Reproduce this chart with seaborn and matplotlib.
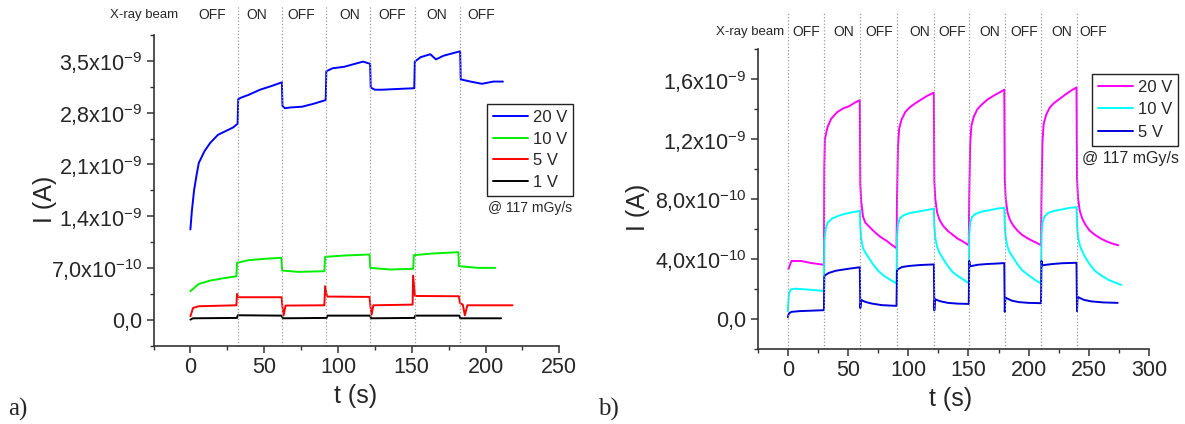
import numpy as np
import pandas as pd
import matplotlib
matplotlib.use('Agg')
import matplotlib.pyplot as plt
import seaborn as sns
from matplotlib.ticker import MultipleLocator, FuncFormatter
from matplotlib.transforms import blended_transform_factory

sns.set_style("ticks")
plt.rcParams['font.family'] = ['Liberation Sans', 'DejaVu Sans']
plt.rcParams['mathtext.fontset'] = 'custom'
plt.rcParams['mathtext.rm'] = 'Liberation Sans'
plt.rcParams['mathtext.it'] = 'Liberation Sans:italic'
plt.rcParams['mathtext.bf'] = 'Liberation Sans:bold'

# ---------------- panel a) data (current in nA, time in s) ----------------
switch_a = [32.3, 62.3, 92, 122, 152, 183]
beam_labels_a = ['OFF', 'ON', 'OFF', 'ON', 'OFF', 'ON', 'OFF']
beam_pos_a = [15, 44.7, 75.2, 108, 137, 167, 197]

t_a20 = [0, 1.0, 2.5, 4.4, 5.7, 9.6, 13.4, 18.7, 23.9, 29, 32.0,
         32.4, 34, 39.4, 47.2, 55, 62.0,
         62.4, 64, 68, 75.7, 83.5, 91.7,
         92.1, 96.4, 104.2, 113.3, 117, 121.8,
         122.2, 125, 130, 140.5, 151.7,
         152.1, 156, 162.6, 166.4, 171.6, 182.8,
         183.2, 189.8, 197.6, 205.3, 211.8]
i_a20 = [1.22, 1.47, 1.75, 1.98, 2.12, 2.28, 2.39, 2.50, 2.55, 2.60, 2.65,
         2.98, 3.00, 3.04, 3.11, 3.16, 3.21,
         2.89, 2.86, 2.87, 2.88, 2.92, 2.97,
         3.36, 3.40, 3.42, 3.47, 3.49, 3.46,
         3.14, 3.11, 3.11, 3.12, 3.13,
         3.49, 3.55, 3.59, 3.52, 3.57, 3.63,
         3.25, 3.22, 3.19, 3.22, 3.22]

t_a10 = [0, 5.7, 13.4, 21.3, 31.2,
         31.6, 39.4, 49.8, 61.6,
         62.2, 73, 90.8,
         91.3, 104.2, 121.4,
         121.9, 135.3, 151.0,
         151.4, 163.9, 181.6,
         182.0, 195, 206.6]
i_a10 = [0.384, 0.483, 0.528, 0.556, 0.587,
         0.768, 0.804, 0.822, 0.836,
         0.664, 0.646, 0.655,
         0.849, 0.867, 0.881,
         0.700, 0.678, 0.687,
         0.872, 0.894, 0.912,
         0.723, 0.700, 0.700]

t_a5 = [0, 1.8, 5.7, 31.2,
        31.6, 32.6, 61.8,
        62.3, 63.2, 64.5, 90.8,
        91.3, 92.6, 121.4,
        121.9, 122.8, 124, 150.6,
        150.9, 152.2, 182.0,
        182.6, 184.6, 186.0, 187.7, 218.3]
i_a5 = [0.045, 0.158, 0.181, 0.194,
        0.348, 0.303, 0.303,
        0.190, 0.059, 0.190, 0.194,
        0.452, 0.312, 0.307,
        0.200, 0.068, 0.194, 0.203,
        0.596, 0.320, 0.316,
        0.226, 0.203, 0.059, 0.194, 0.194]

t_a1 = [0, 1.8, 31.6, 32.1, 61.8, 62.7, 92.3, 92.8, 121.8, 122.4,
        151.8, 152.3, 182.3, 182.9, 210.5]
i_a1 = [0.0, 0.018, 0.023, 0.059, 0.054, 0.018, 0.023, 0.054, 0.054, 0.018,
        0.023, 0.054, 0.054, 0.018, 0.018]

# ---------------- panel b) data (current in nA, time in s) ----------------
switch_b = [0, 30, 60, 90.5, 121.5, 150.5, 180, 210.5, 240]
beam_labels_b = ['OFF', 'ON', 'OFF', 'ON', 'OFF', 'ON', 'OFF', 'ON', 'OFF']
beam_pos_b = [15.3, 46.5, 76, 109.4, 137, 167.6, 196.7, 227.9, 253.4]

t_b20 = [0.5, 3, 11, 19, 29.7,
         30, 30.3, 30.8, 33, 36, 41, 46, 51, 56, 59.8,
         60.2, 61, 62.5, 64.5, 67, 70, 74, 78, 82, 86, 90.3,
         90.7, 91.5, 92.5, 94.5, 97.5, 101, 106, 111, 116, 121.3,
         121.7, 122.5, 124, 126, 129, 133, 137, 141, 145.5, 150.3,
         150.7, 151.5, 152.5, 154.5, 157.5, 161, 166, 171, 175.5, 179.8,
         180.2, 181, 182.5, 184.5, 187, 190.5, 194.5, 198.5, 203, 207, 210.3,
         210.7, 211.5, 212.5, 214.5, 217.5, 221, 226, 231, 235.5, 239.8,
         240.2, 241, 242.5, 244.5, 247, 250.5, 255, 260, 265, 270, 274.5]
i_b20 = [0.33, 0.385, 0.385, 0.372, 0.36,
         0.36, 1.00, 1.20, 1.28, 1.335, 1.38, 1.405, 1.42, 1.445, 1.46,
         0.90, 0.78, 0.68, 0.64, 0.62, 0.595, 0.565, 0.54, 0.52, 0.495, 0.47,
         0.80, 1.15, 1.27, 1.33, 1.38, 1.41, 1.44, 1.465, 1.49, 1.51,
         0.92, 0.80, 0.71, 0.66, 0.62, 0.585, 0.56, 0.535, 0.515, 0.49,
         0.82, 1.17, 1.29, 1.35, 1.40, 1.43, 1.465, 1.49, 1.51, 1.53,
         0.93, 0.80, 0.71, 0.66, 0.625, 0.59, 0.56, 0.54, 0.52, 0.505, 0.49,
         0.82, 1.18, 1.30, 1.36, 1.41, 1.44, 1.47, 1.50, 1.525, 1.545,
         0.94, 0.81, 0.72, 0.67, 0.63, 0.59, 0.56, 0.535, 0.515, 0.50, 0.49]

t_b10 = [0, 1, 2.5, 6, 15, 29.7,
         30, 30.4, 31.5, 33, 37, 43, 50, 59.8,
         60.2, 61, 62.5, 64.5, 67, 71, 75, 80, 85, 90.3,
         90.7, 91.5, 93, 96, 101, 108, 115, 121.3,
         121.7, 122.5, 124, 126, 129, 133, 137, 142, 146, 150.3,
         150.7, 151.5, 153, 156, 161, 168, 174, 179.8,
         180.2, 181, 182.5, 184.5, 187, 191, 195, 200, 205, 210.3,
         210.7, 211.5, 213, 216, 221, 228, 234, 239.8,
         240.2, 241, 242.5, 244.5, 247, 251, 255, 260, 266, 272, 277]
i_b10 = [0.05, 0.17, 0.195, 0.20, 0.195, 0.185,
         0.19, 0.52, 0.60, 0.64, 0.67, 0.69, 0.705, 0.72,
         0.62, 0.53, 0.47, 0.44, 0.41, 0.36, 0.32, 0.285, 0.26, 0.235,
         0.55, 0.63, 0.67, 0.69, 0.705, 0.715, 0.725, 0.735,
         0.62, 0.54, 0.48, 0.44, 0.40, 0.35, 0.31, 0.28, 0.26, 0.235,
         0.56, 0.64, 0.68, 0.70, 0.715, 0.725, 0.735, 0.74,
         0.62, 0.54, 0.48, 0.44, 0.41, 0.36, 0.32, 0.29, 0.26, 0.235,
         0.56, 0.64, 0.68, 0.705, 0.72, 0.73, 0.74, 0.745,
         0.63, 0.55, 0.49, 0.45, 0.41, 0.36, 0.32, 0.29, 0.26, 0.24, 0.225]

t_b5 = [0, 1, 3, 10, 20, 29.7,
        30, 30.3, 31, 34, 40, 48, 55, 59.8,
        60.2, 61, 62, 65, 70, 78, 85, 90.3,
        90.7, 91.5, 95, 101, 110, 121.3,
        121.7, 122.2, 123.5, 127, 133, 141, 150.3,
        150.7, 151.3, 153, 158, 166, 174, 179.8,
        180.2, 180.7, 182, 186, 192, 200, 210.3,
        210.7, 211.3, 213, 220, 228, 239.8,
        240.2, 240.7, 242, 246, 252, 262, 274]
i_b5 = [0.01, 0.035, 0.045, 0.05, 0.053, 0.056,
        0.06, 0.28, 0.29, 0.305, 0.32, 0.33, 0.338, 0.343,
        0.07, 0.125, 0.12, 0.11, 0.10, 0.09, 0.087, 0.085,
        0.32, 0.33, 0.345, 0.352, 0.358, 0.362,
        0.055, 0.13, 0.125, 0.115, 0.105, 0.10, 0.098,
        0.385, 0.35, 0.352, 0.36, 0.365, 0.368, 0.371,
        0.045, 0.14, 0.135, 0.12, 0.11, 0.105, 0.103,
        0.385, 0.355, 0.358, 0.365, 0.37, 0.373,
        0.05, 0.145, 0.14, 0.125, 0.115, 0.108, 0.105]

series_a = [('20 V', t_a20, i_a20, '#0000ff'),
            ('10 V', t_a10, i_a10, '#00ee00'),
            ('5 V', t_a5, i_a5, '#ff0000'),
            ('1 V', t_a1, i_a1, '#000000')]
series_b = [('20 V', t_b20, i_b20, '#ff00ff'),
            ('10 V', t_b10, i_b10, '#00ffff'),
            ('5 V', t_b5, i_b5, '#0000dd')]


def sci_comma(v, pos):
    if abs(v) < 1e-15:
        return '0,0'
    e = int(np.floor(np.log10(abs(v)) + 1e-9))
    m = v / 10.0 ** e
    return f'{m:.1f}'.replace('.', ',') + r'x10$^{' + str(e) + '}$'


def style_axis(ax, xmaj, ymaj):
    sns.despine(ax=ax)
    for s in ['left', 'bottom']:
        ax.spines[s].set_linewidth(1.2)
        ax.spines[s].set_color('#333333')
    ax.xaxis.set_major_locator(MultipleLocator(xmaj))
    ax.xaxis.set_minor_locator(MultipleLocator(xmaj / 2))
    ax.yaxis.set_major_locator(MultipleLocator(ymaj))
    ax.yaxis.set_minor_locator(MultipleLocator(ymaj / 2))
    ax.yaxis.set_major_formatter(FuncFormatter(sci_comma))
    ax.tick_params(which='major', direction='out', length=5, width=1.1,
                   labelsize=15.5, color='#333333', pad=3)
    ax.tick_params(which='minor', direction='out', length=3, width=1.0,
                   color='#333333')


def draw_panel(ax, series, switches, labels, label_pos, label_y, vline_top):
    for name, t, i, col in series:
        df = pd.DataFrame({'t': t, 'I': np.array(i) * 1e-9})
        sns.lineplot(data=df, x='t', y='I', color=col, lw=1.4, label=name,
                     estimator=None, sort=False, ax=ax)
    ax.vlines(switches, 0, vline_top, transform=ax.get_xaxis_transform(),
              colors='#9a9a9a', linestyles=':', lw=0.9, clip_on=False)
    trans = blended_transform_factory(ax.transData, ax.transAxes)
    ax.text(-31.5, label_y, 'X-ray beam', transform=trans, ha='center',
            va='center', fontsize=9.5)
    for lab, x in zip(labels, label_pos):
        ax.text(x, label_y, lab, transform=trans, ha='center', va='center',
                fontsize=10)


fig = plt.figure(figsize=(11.85, 4.24), dpi=100)
W, H = 1185.0, 424.0

# panel a
ax_a = fig.add_axes([153.5 / W, (H - 345.5) / H, (559.3 - 153.5) / W, (345.5 - 35) / H])
draw_panel(ax_a, series_a, switch_a, beam_labels_a, beam_pos_a, 1.064, 1.097)
ax_a.set_xlim(-25, 250)
ax_a.set_ylim(-0.35e-9, 3.85e-9)
style_axis(ax_a, 50, 0.7e-9)
ax_a.set_xlabel('t (s)', fontsize=18)
ax_a.set_ylabel('I (A)', fontsize=18)
ax_a.xaxis.set_label_coords(0.499, -0.125)
ax_a.yaxis.set_label_coords(-0.238, 0.47)
ax_a.legend(loc='upper left', bbox_to_anchor=(486.7 / W, 1 - 104 / H),
            bbox_transform=fig.transFigure, borderaxespad=0, frameon=True,
            fancybox=False, edgecolor='#222222', framealpha=1, fontsize=12,
            handlelength=2.1, handletextpad=0.3, labelspacing=0.4,
            borderpad=0.35)
fig.text(530 / W, 1 - 208 / H, '@ 117 mGy/s', ha='center', va='center',
         fontsize=10)

# panel b
ax_b = fig.add_axes([757.7 / W, (H - 348.5) / H, (1149 - 757.7) / W, (348.5 - 49.3) / H])
draw_panel(ax_b, series_b, switch_b, beam_labels_b, beam_pos_b, 1.058, 1.125)
ax_b.set_xlim(-25, 300)
ax_b.set_ylim(-0.2e-9, 1.8e-9)
style_axis(ax_b, 50, 0.4e-9)
ax_b.set_xlabel('t (s)', fontsize=18)
ax_b.set_ylabel('I (A)', fontsize=18)
ax_b.xaxis.set_label_coords(0.4925, -0.13)
ax_b.yaxis.set_label_coords(-0.275, 0.473)
ax_b.legend(loc='upper left', bbox_to_anchor=(1091.7 / W, 1 - 74 / H),
            bbox_transform=fig.transFigure, borderaxespad=0, frameon=True,
            fancybox=False, edgecolor='#222222', framealpha=1, fontsize=12,
            handlelength=2.1, handletextpad=0.3, labelspacing=0.45,
            borderpad=0.35)
fig.text(1130 / W, 1 - 158 / H, '@ 117 mGy/s', ha='center', va='center',
         fontsize=11.5)

# panel tags
fig.text(8 / W, 1 - 416 / H, 'a)', family=['Liberation Serif', 'DejaVu Serif'],
         fontsize=18, va='baseline', ha='left')
fig.text(598 / W, 1 - 416 / H, 'b)', family=['Liberation Serif', 'DejaVu Serif'],
         fontsize=18, va='baseline', ha='left')

fig.savefig('out.png', dpi=100, facecolor='white')
